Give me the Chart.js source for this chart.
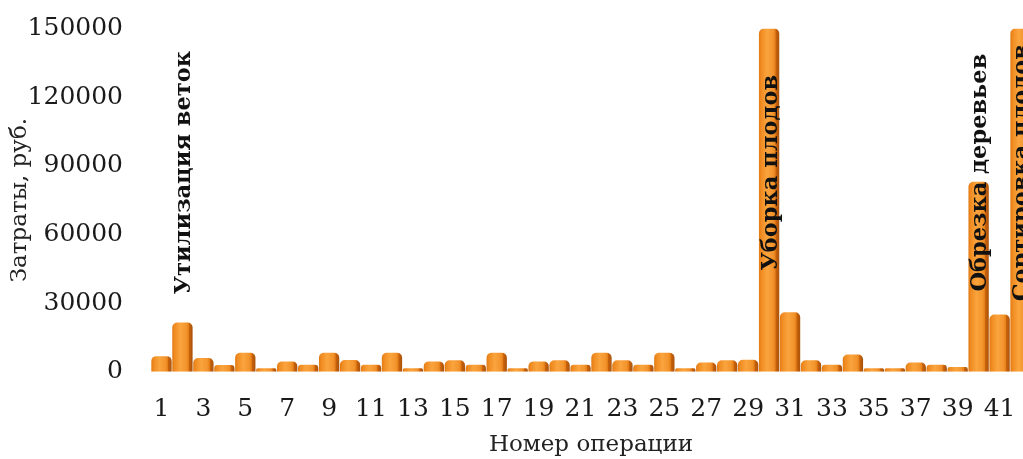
<!DOCTYPE html>
<html>
<head>
<meta charset="utf-8">
<script src="https://cdn.jsdelivr.net/npm/chart.js@4/dist/chart.umd.min.js"></script>
<style>
  html, body { margin: 0; padding: 0; background: #ffffff; overflow: hidden; }
  #wrap { position: relative; width: 1041px; height: 459px; }
</style>
</head>
<body>
<div id="wrap"><canvas id="c"></canvas></div>
<script>
// Operation numbers along the horizontal axis
const operations = ['1','2','3','4','5','6','7','8','9','10','11','12','13','14',
  '15','16','17','18','19','20','21','22','23','24','25','26','27','28',
  '29','30','31','32','33','34','35','36','37','38','39','40','41','42'];

// Cost of each operation, rubles
const costs = [6800, 21500, 6000, 2900, 8300, 1500, 4500, 3000, 8300, 5100, 3000, 8300, 1500, 4500,
  5000, 3000, 8300, 1500, 4500, 5000, 3000, 8300, 5000, 3000, 8300, 1500, 4000, 5000,
  5200, 150000, 26000, 5000, 3000, 7500, 1500, 1500, 4000, 3000, 2000, 83000, 25000, 150000];

// Value axis ticks
const costTicks = [0, 30000, 60000, 90000, 120000, 150000];

// Named operations written over their bars
const namedOps = ['2', '30', '40', '42'];
const namedOpTitles = ['Утилизация веток', 'Уборка плодов', 'Обрезка деревьев', 'Сортировка плодов'];

const BAR_PCT = 0.97;

// Horizontal shading that gives each bar a rounded, lit front and a dark side
function barFill(ctx) {
  const chart = ctx.chart;
  const xs = chart.scales && chart.scales.x;
  if (!xs || ctx.type !== 'data') return '#F39A2E';
  const cx = xs.getPixelForValue(ctx.dataIndex);
  const w = (xs.width / operations.length) * BAR_PCT;
  if (!isFinite(cx) || !isFinite(w) || w <= 0) return '#F39A2E';
  const g = chart.ctx.createLinearGradient(cx - w / 2, 0, cx + w / 2, 0);
  g.addColorStop(0.00, '#E07A14');
  g.addColorStop(0.12, '#F08C22');
  g.addColorStop(0.40, '#FAA43E');
  g.addColorStop(0.70, '#F3942C');
  g.addColorStop(0.80, '#E68019');
  g.addColorStop(0.84, '#C8620C');
  g.addColorStop(1.00, '#A9520A');
  return g;
}

// Operation names written vertically over their bars
const opTitlesPlugin = {
  id: 'opTitles',
  afterDatasetsDraw(chart) {
    const { ctx, scales: { x, y } } = chart;
    ctx.save();
    ctx.font = 'bold 22.5px "DejaVu Serif", serif';
    ctx.fillStyle = '#111111';
    ctx.textAlign = 'center';
    ctx.textBaseline = 'middle';
    const cy = y.getPixelForValue(87000);
    namedOps.forEach((op, i) => {
      const px = x.getPixelForValue(operations.indexOf(op)) + 2;
      ctx.save();
      ctx.translate(px, cy);
      ctx.rotate(-Math.PI / 2);
      ctx.fillText(namedOpTitles[i], 0, 0);
      ctx.restore();
    });
    ctx.restore();
  }
};

const chart = new Chart(document.getElementById('c'), {
  type: 'bar',
  data: {
    labels: operations,
    datasets: [{
      data: costs,
      backgroundColor: barFill,
      borderWidth: 0,
      borderRadius: { topLeft: 5, topRight: 5, bottomLeft: 0, bottomRight: 0 },
      borderSkipped: 'bottom',
      barPercentage: BAR_PCT,
      categoryPercentage: 1.0
    }]
  },
  options: {
    responsive: true,
    maintainAspectRatio: false,
    animation: false,
    devicePixelRatio: 1,
    layout: { padding: { top: 28.5, right: 10, bottom: 0, left: 0 } },
    plugins: { legend: { display: false }, tooltip: { enabled: false } },
    scales: {
      x: {
        grid: { display: false, drawTicks: false },
        border: { display: false },
        ticks: {
          autoSkip: false,
          maxRotation: 0,
          padding: 23,
          color: '#1a1a1a',
          font: { family: '"DejaVu Serif", serif', size: 25 },
          callback: (v, i) => (i % 2 === 0 ? operations[i] : '')
        },
        title: {
          display: true,
          text: 'Номер операции',
          color: '#222222',
          font: { family: '"DejaVu Serif", serif', size: 23 },
          padding: { top: 4, bottom: 0 }
        },
        afterFit: (s) => { s.height = 87.3; s.paddingLeft = 0; s.paddingRight = 0; }
      },
      y: {
        min: 0,
        max: 150000,
        afterBuildTicks: (s) => { s.ticks = costTicks.map(v => ({ value: v })); },
        grid: { display: false, drawTicks: false },
        border: { display: false },
        ticks: {
          padding: 28,
          color: '#1a1a1a',
          font: { family: '"DejaVu Serif", serif', size: 25 },
          callback: (v) => String(v)
        },
        title: {
          display: true,
          text: 'Затраты, руб.',
          color: '#222222',
          font: { family: '"DejaVu Serif", serif', size: 23 },
          padding: { top: 6, bottom: 0 }
        },
        afterFit: (s) => { s.width = 151; s.paddingTop = 0; s.paddingBottom = 0; }
      }
    }
  },
  plugins: [opTitlesPlugin]
});
// refresh once the scales exist so every bar gets its shading
chart.update();
</script>
</body>
</html>
